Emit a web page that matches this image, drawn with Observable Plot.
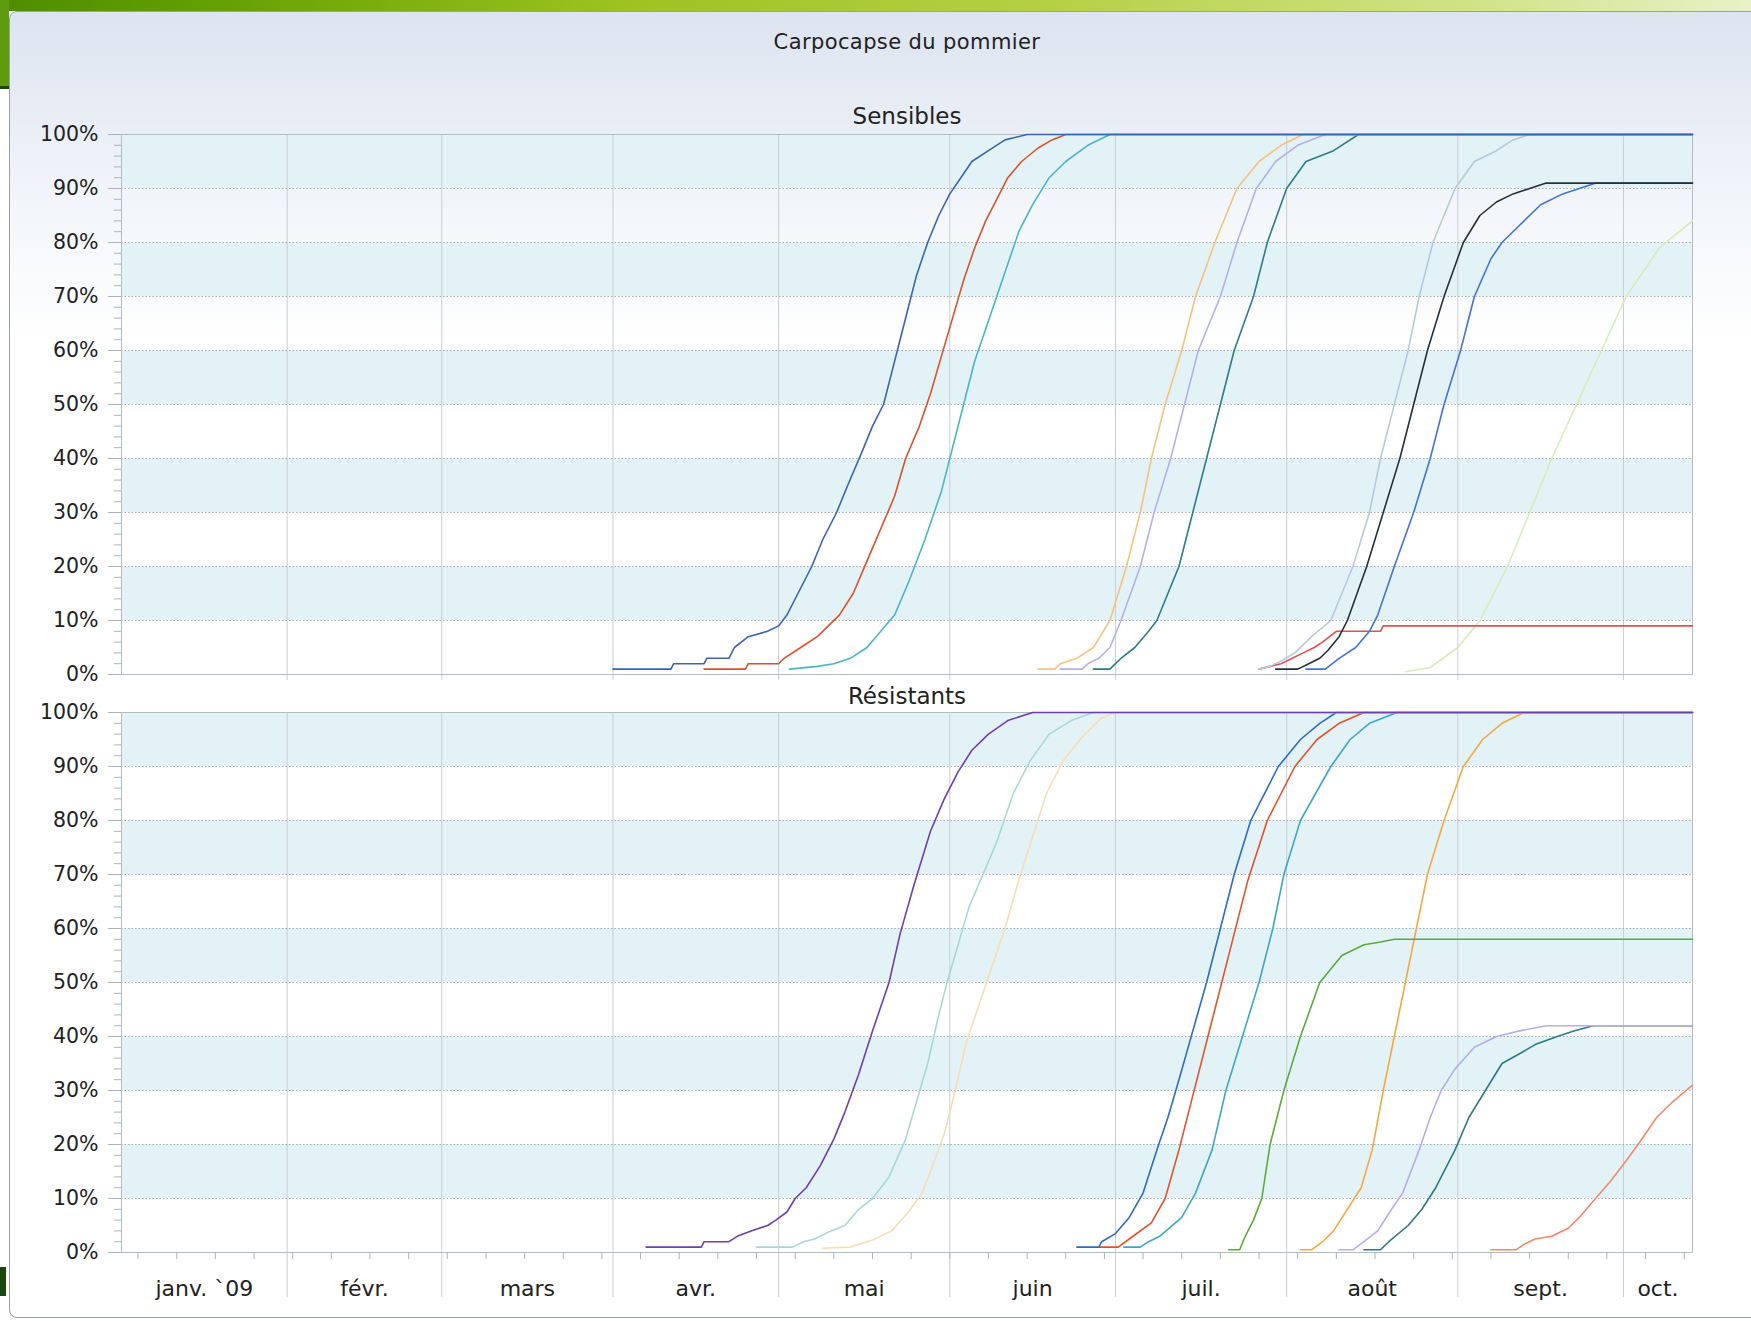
<!DOCTYPE html>
<html>
<head>
<meta charset="utf-8">
<script src="https://cdn.jsdelivr.net/npm/d3@7"></script>
<script src="https://cdn.jsdelivr.net/npm/@observablehq/plot@0.6"></script>
<style>
  html, body { margin: 0; padding: 0; width: 1751px; height: 1321px; overflow: hidden; background: #ffffff; font-family: "DejaVu Sans", sans-serif; }
  #banner { position: absolute; left: 0; top: 0; width: 1751px; height: 11px;
    background: linear-gradient(to right, #4f8d00 0%, #64a000 12%, #9cc220 35%, #b6d043 60%, #d2e38b 85%, #e9f1c6 100%); }
  #leftbar { position: absolute; left: 0; top: 0; width: 9px; height: 86px; background: #5e9c0c; border-bottom: 3px solid #1d4708; }
  #corner { position: absolute; left: 0; top: 1267px; width: 6px; height: 29px; background: #1b470c; }
  #panel { position: absolute; left: 9px; top: 11px; width: 1770px; height: 1305px; border: 1px solid #98a1ab; border-radius: 8px 0 0 8px;
    background: linear-gradient(180deg, #dce4f0 0px, #e8edf5 100px, #f3f6fa 200px, #ffffff 330px); }
  .t { position: absolute; left: 0; width: 1814px; text-align: center; color: #222; white-space: nowrap; z-index: 5; }
  #title { top: 30px; font-size: 21px; line-height: 25px; letter-spacing: 0.4px; }
  #t1 { top: 103px; font-size: 23px; line-height: 27px; }
  #t2 { top: 683px; font-size: 23px; line-height: 27px; }
  #chart1 { position: absolute; left: 0; top: 114px; z-index: 2; }
  #chart2 { position: absolute; left: 0; top: 692px; z-index: 2; }
</style>
</head>
<body>
<div id="banner"></div>
<div id="leftbar"></div>
<div id="corner"></div>
<div id="panel"></div>
<div id="chart1"></div>
<div id="chart2"></div>
<div class="t" id="title">Carpocapse du pommier</div>
<div class="t" id="t1">Sensibles</div>
<div class="t" id="t2">Résistants</div>
<script>
// ---- Axis / label data ----
const panelTitles = ["Sensibles", "Résistants"];
const monthNames = ["janv. `09", "févr.", "mars", "avr.", "mai", "juin", "juil.", "août", "sept.", "oct."];
const yMajor = [0, 10, 20, 30, 40, 50, 60, 70, 80, 90, 100];
const yMinor = d3.range(0, 101, 2);
const bandRanges = [[10, 20], [30, 40], [50, 60], [70, 80], [90, 100]];
const firstDay = 1;      // domain start, day of year 2009 (0 = 1 janv.)
const lastDay = 285.5;   // domain end

// ---- Series: [day of year 2009 (0 = 1 janv.), cumulative %] ----
// Sensibles
const sensA = [[90,1],[100.5,1],[101,2],[106.5,2],[107,3],[111,3],[112,5],[114.5,7],[118,8],[120,9],[121.5,11],[123.5,15],[126,20],[128,25],[130.5,30],[132.5,35],[135,41],[137,46],[139,50],[140.5,56],[142,62],[143.5,68],[145,74],[147,80],[149,85],[151,89],[153,92],[155,95],[158,97],[161,99],[165,100],[285.5,100]];
const sensB = [[106.5,1],[114,1],[114.5,2],[120,2],[121,3],[124,5],[127,7],[129,9],[131,11],[133.5,15],[136,21],[138.5,27],[141,33],[143,40],[145.5,46],[147.5,52],[149.5,59],[151.5,66],[153.5,73],[155.5,79],[157.5,84],[159.5,88],[161.5,92],[164,95],[167,97.5],[169.5,99],[172,100],[285.5,100]];
const sensC = [[122,1],[127,1.5],[130,2],[133,3],[136,5],[138.5,8],[141,11],[143.5,17],[146.5,25],[149.5,34],[151.5,42],[153.5,50],[155.5,58],[157.5,64],[159.5,70],[161.5,76],[163.5,82],[166,87],[169,92],[172,95],[176,98],[180,100],[285.5,100]];
const sensD = [[167,1],[170,1],[171,2],[174,3],[177,5],[180,10],[183,20],[185.5,30],[187.5,40],[190,50],[193,60],[195.5,70],[199,80],[203,90],[207,95],[211,98],[215,100],[285.5,100]];
const sensE = [[171,1],[175,1],[176,2],[178,3],[180,5],[182,10],[185.5,20],[188,30],[191,40],[193.5,50],[196,60],[200,70],[203,80],[206.5,90],[210,95],[214,98],[219,100],[285.5,100]];
const sensF = [[177,1],[180,1],[182,3],[184.5,5],[187,8],[188.5,10],[192.5,20],[195,30],[197.5,40],[200,50],[202.5,60],[206,70],[208.5,80],[212,90],[215.5,95],[220.5,97],[225,100],[285.5,100]];
const sensG = [[207,1],[209,1.5],[211,2.5],[213.5,4],[216.5,7],[220,10],[224,20],[227,30],[229,40],[231.5,50],[234,60],[236,70],[238.5,80],[242.5,90],[246,95],[250,97],[253,99],[256,100],[285.5,100]];
const sensH = [[210,1],[214,1],[216,2],[218,3],[219.5,4.5],[221.5,7],[223,10],[226.5,20],[229.5,30],[232.5,40],[235,50],[237.5,60],[240.5,70],[244,80],[247,85],[250,87.5],[253,89],[256,90],[259,91],[285.5,91]];
const sensI = [[215.5,1],[219,1],[221.5,3],[224.5,5],[227,8],[228.5,11],[231.5,20],[235,30],[238,40],[240.5,50],[243.5,60],[246,70],[249,77],[251,80],[254,83],[258,87],[262,89],[265,90],[268,91],[285.5,91]];
const sensJ = [[207,1],[209,1.5],[211,2],[213,3],[215,4],[217,5],[218.5,6],[221,8],[229,8],[229.5,9],[285.5,9]];
const sensK = [[233.5,0.5],[238,1.3],[243,5],[247,10],[252,20],[256,30],[260,40],[264.5,50],[269,60],[273.5,70],[279.5,79],[285.5,84]];
// Résistants
const resA = [[96,1],[106,1],[106.5,2],[111,2],[112.5,3],[115,4],[118,5],[119.5,6],[121.5,7.5],[123,10],[125,12],[127.5,16],[130,21],[132,26],[134.5,33],[137,41],[140,50],[142,59],[144.5,68],[147.5,78],[150,84],[152.5,89],[155,93],[158,96],[161.5,98.5],[166,100],[285.5,100]];
const resB = [[116,1],[122.5,1],[124.5,2],[126.5,2.5],[129.5,4],[132,5],[134.5,8],[137,10],[140,14],[143,21],[145,28],[147,35],[149,44],[150.5,50],[152.5,57],[154.5,64],[157,70],[159.5,76],[162.5,85],[165.5,91],[169,96],[173,98.5],[177,100],[285.5,100]];
const resC = [[128,0.8],[133,1],[137,2.3],[140.5,4],[143.5,7.5],[146,11],[147.5,15],[150,22],[152,30],[154,39],[156,45],[158,51],[161,60],[163.5,69],[166,77],[168.5,85],[171.5,91],[175,95.5],[178.5,99],[181,100],[285.5,100]];
const resD = [[174,1],[178,1],[178.5,2],[181,3.5],[183.5,6.5],[186,11],[188.5,19],[190.5,25],[192.5,32],[195,41],[197.5,50],[200,60],[202.5,70],[205.5,80],[210.5,90],[214.5,95],[218,98],[221,100],[285.5,100]];
const resE = [[178,1],[181.5,1],[183.5,2.5],[187.5,5.5],[190,10],[192.5,19],[195,29],[197.5,39],[200,49],[202.5,59],[205,69],[208.5,80],[213.5,90],[217.5,95],[221.5,98],[226,100],[285.5,100]];
const resF = [[182.5,1],[185.5,1],[187,2],[189,3],[193,6.5],[195.5,11],[198.5,19],[201,30],[204,40],[207,50],[209.5,60],[211.5,70],[214.5,80],[220,90],[223.5,95],[227,98],[232,100],[285.5,100]];
const resG = [[201.5,0.5],[203.5,0.5],[204.5,3],[206,6],[207.5,10],[209,20],[211.5,30],[214.5,40],[218,50],[222,55],[226,57],[229,57.5],[231.5,58],[285.5,58]];
const resH = [[214.5,0.5],[216.5,0.5],[218.5,2],[220.5,4],[223,8],[225.5,12],[227.5,19],[229.5,30],[231.5,40],[233.5,50],[235.5,60],[237.5,70],[240.5,80],[244,90],[247.5,95],[251,98],[255,100],[285.5,100]];
const resI = [[221.5,0.5],[224,0.5],[226,2],[228.5,4],[231,8],[233,11],[236,19],[238,25],[240,30],[242.5,34],[246,38],[250,40],[254,41],[259,42],[285.5,42]];
const resJ = [[226,0.5],[229,0.5],[230.5,2],[234,5],[236.5,8],[239,12],[242.5,19],[245,25],[248,30],[251,35],[254.5,37],[257,38.5],[261,40],[264,41],[267.5,42],[285.5,42]];
const resK = [[249,0.5],[253.5,0.5],[255,1.5],[257,2.5],[260,3],[263,4.5],[265,6.5],[267.5,9.5],[270.5,13],[273.5,17],[276,20.5],[279,25],[282,28],[285.5,31]];

const sensSeries = [sensA, sensB, sensC, sensD, sensE, sensF, sensG, sensH, sensI, sensJ, sensK];
const resSeries  = [resA, resB, resC, resD, resE, resF, resG, resH, resI, resJ, resK];

// ---- Styles ----
const sensColors = ["#3a66ad", "#d8532b", "#4bb5c6", "#f6c27f", "#b3b0ea", "#2b7c8c", "#b5cbd9", "#25323d", "#4175d2", "#e3504f", "#d5edb8"];
const resColors  = ["#6f3fb0", "#a6d9d3", "#f7deb0", "#2e6cc2", "#e0532a", "#3ea6c6", "#5aac3a", "#f1aa42", "#b5aee8", "#2d7a84", "#f08a6a"];

const T0 = Date.UTC(2009, 0, 1);
const toDate = d => new Date(T0 + d * 864e5);
const domainStart = toDate(firstDay), domainEnd = toDate(lastDay);
const monthStarts = d3.range(1, 10).map(m => new Date(Date.UTC(2009, m, 1)));
const monthLabels = monthNames.map((label, m) => {
  const a = Math.max(+new Date(Date.UTC(2009, m, 1)), +domainStart);
  const b = Math.min(+new Date(Date.UTC(2009, m + 1, 1)), +domainEnd);
  return {label, mid: new Date((a + b) / 2)};
});
const mondays = d3.utcMonday.range(domainStart, domainEnd);

function chart(series, colors, bottom) {
  const marks = [
    Plot.rect(bandRanges, {x1: () => domainStart, x2: () => domainEnd, y1: d => d[0], y2: d => d[1], fill: "#e3f2f7"}),
    Plot.ruleX(monthStarts, {x: d => d, stroke: "#c9ced3", strokeWidth: 1, insetBottom: bottom ? -45 : -6}),
    Plot.ruleY(yMajor.filter(v => v > 0 && v < 100), {y: d => d, stroke: "#a3acb4", strokeDasharray: "1.5,2", strokeWidth: 1}),
    Plot.axisY(yMinor, {tickSize: 7, tickFormat: () => "", stroke: "#aab3bb"}),
    Plot.axisY(yMajor, {tickSize: 13, tickPadding: 10, tickFormat: d => d + "%", stroke: "#aab3bb", fill: "#222", fontSize: 20.5}),
    Plot.frame({stroke: "#b2bcc4"})
  ];
  for (let i = series.length - 1; i >= 0; --i) {
    marks.push(Plot.line(series[i], {x: d => toDate(d[0]), y: d => d[1], stroke: colors[i], strokeWidth: 1.6}));
  }
  if (bottom) {
    marks.push(Plot.axisX(mondays, {tickSize: 7, tickFormat: () => "", stroke: "#aab3bb"}));
    marks.push(Plot.text(monthLabels, {x: d => d.mid, text: d => d.label, frameAnchor: "bottom", dy: 36, lineAnchor: "middle", fontSize: 22, fill: "#222"}));
  }
  return Plot.plot({
    width: 1751,
    height: bottom ? 629 : 572,
    marginLeft: 121,
    marginRight: 59,
    marginTop: 20,
    marginBottom: bottom ? 69 : 12,
    style: {background: "transparent", fontFamily: "DejaVu Sans", fontSize: "20px", color: "#222", overflow: "visible"},
    x: {type: "utc", domain: [domainStart, domainEnd], axis: bottom ? undefined : null},
    y: {domain: [0, 100]},
    marks
  });
}

document.getElementById("chart1").appendChild(chart(sensSeries, sensColors, false));
document.getElementById("chart2").appendChild(chart(resSeries, resColors, true));
document.getElementById("t1").textContent = panelTitles[0];
document.getElementById("t2").textContent = panelTitles[1];
</script>
</body>
</html>
